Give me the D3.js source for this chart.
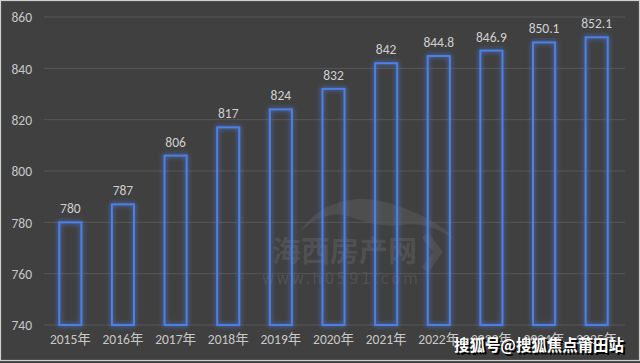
<!DOCTYPE html>
<html><head><meta charset="utf-8">
<script src="https://cdn.jsdelivr.net/npm/d3@7"></script>
<style>
html,body{margin:0;padding:0;background:#404040;}
svg{display:block;}
</style></head>
<body>
<script>
const categories = ["2015年","2016年","2017年","2018年","2019年","2020年","2021年","2022年","2023年","2024年","2025年"];
const values = [780, 787, 806, 817, 824, 832, 842, 844.8, 846.9, 850.1, 852.1];
const valueLabels = ["780","787","806","817","824","832","842","844.8","846.9","850.1","852.1"];
const yTicks = [740, 760, 780, 800, 820, 840, 860];

const W = 640, H = 363;
const svg = d3.select("body").append("svg").attr("width", W).attr("height", H);

const defs = svg.append("defs");
const glow = defs.append("filter").attr("id","glow").attr("x","-50%").attr("y","-20%").attr("width","200%").attr("height","140%");
glow.append("feGaussianBlur").attr("in","SourceGraphic").attr("stdDeviation",2.4).attr("result","b");
const m = glow.append("feMerge");
m.append("feMergeNode").attr("in","b");
m.append("feMergeNode").attr("in","SourceGraphic");

svg.append("rect").attr("x",0).attr("y",0).attr("width",W).attr("height",H).attr("fill","#404040");
svg.append("rect").attr("x",0.5).attr("y",0.5).attr("width",W-1).attr("height",H-3).attr("fill","none").attr("stroke","#d0d0d0").attr("stroke-width",1.2);

const x = d3.scaleBand().domain(categories).range([44, 623]).paddingInner(0.58).paddingOuter(0.29);
const y = d3.scaleLinear().domain([740, 860]).range([325, 17]);

const latin = "Calibri, Carlito, 'Liberation Sans', 'Noto Sans CJK SC', sans-serif";

// gridlines
svg.append("g").selectAll("line").data(yTicks).join("line")
  .attr("x1",44).attr("x2",625)
  .attr("y1",d=>y(d)).attr("y2",d=>y(d))
  .attr("stroke","#575757").attr("stroke-width",1);

// y axis
const yAxis = d3.axisLeft(y).tickValues(yTicks).tickSize(0).tickPadding(0);
const gy = svg.append("g").attr("transform","translate(32,0)").call(yAxis);
gy.select(".domain").remove();
gy.selectAll("text").attr("fill","#c8c8c8").attr("font-size",13.5).attr("font-family",latin).attr("dy","0.35em");

// x axis
const xAxis = d3.axisBottom(x).tickSize(0).tickPadding(0);
const gx = svg.append("g").attr("transform","translate(0,339)").call(xAxis);
gx.select(".domain").remove();
gx.selectAll("text").attr("fill","#c8c8c8").attr("font-size",13.5).attr("font-family",latin).attr("dy","0.35em");

// watermark center
const wm = svg.append("g").attr("opacity",0.55);
wm.append("path")
  .attr("d","M300,232 C320,200 360,192 395,205 C420,214 440,222 455,240 C440,228 420,222 400,225 C380,228 360,220 345,215 C330,212 312,220 300,232 Z")
  .attr("fill","#5a5a5a");
wm.append("path").attr("d","M425,235 L438,252 L425,270").attr("stroke","#5a5a5a").attr("stroke-width",8).attr("fill","none");
wm.append("text").attr("x",272).attr("y",262).attr("font-size",29).attr("font-weight","bold")
  .attr("font-family","'Noto Sans CJK SC', sans-serif").attr("fill","#5e5e5e").text("海西房产网");
wm.append("text").attr("x",262).attr("y",284).attr("font-size",15).attr("letter-spacing",2.6)
  .attr("font-family","'DejaVu Sans', sans-serif").attr("fill","#5e5e5e").text("www.h0591.com");

// bars
svg.append("g").selectAll("rect").data(values).join("rect")
  .attr("x",(d,i)=>x(categories[i]))
  .attr("y",d=>y(d))
  .attr("width",x.bandwidth())
  .attr("height",d=>y(740)-y(d))
  .attr("fill","none")
  .attr("stroke","#4d7fe6").attr("stroke-width",2)
  .attr("filter","url(#glow)");

// value labels
svg.append("g").selectAll("text").data(values).join("text")
  .attr("x",(d,i)=>x(categories[i])+x.bandwidth()/2)
  .attr("y",d=>y(d)-9)
  .attr("text-anchor","middle")
  .attr("fill","#d0d0d0").attr("font-size",13.5).attr("font-family",latin)
  .text((d,i)=>valueLabels[i]);

// bottom-right watermark
const sh = svg.append("g");
const wmText = "搜狐号@搜狐焦点莆田站";
[[456,353,"#000"],[454,351,"#ffffff"]].forEach(([tx,ty,c])=>{
  sh.append("text").attr("x",tx).attr("y",ty).attr("font-size",16).attr("font-weight","bold")
    .attr("textLength",170).attr("lengthAdjust","spacingAndGlyphs")
    .attr("font-family","'Noto Sans CJK SC', sans-serif").attr("fill",c).text(wmText);
});
</script>
</body></html>
